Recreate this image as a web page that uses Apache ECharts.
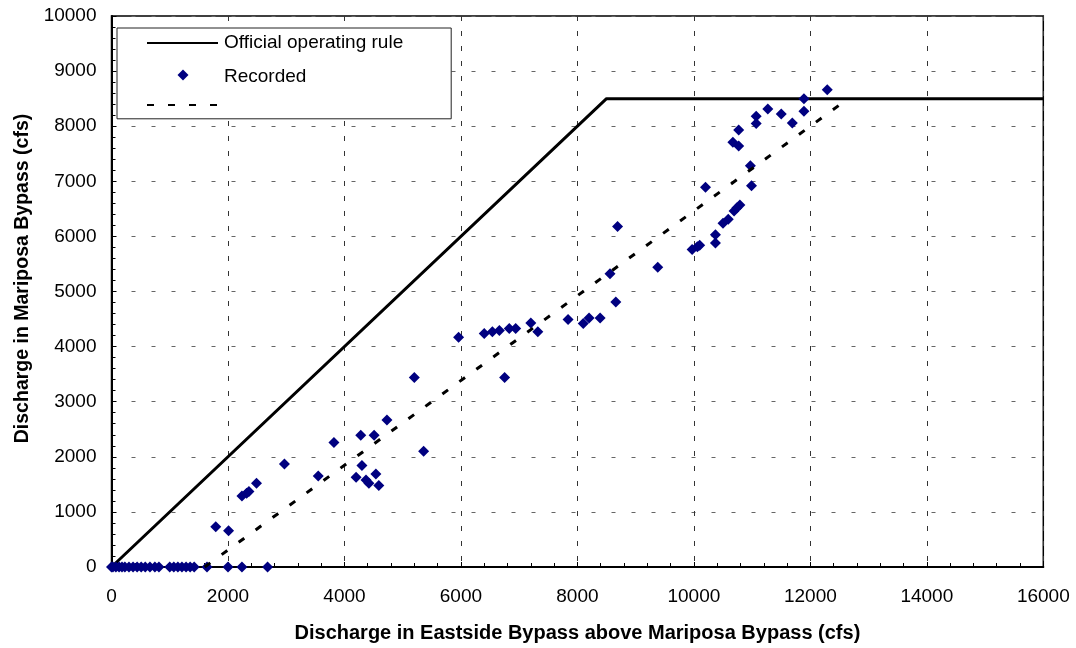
<!DOCTYPE html>
<html>
<head>
<meta charset="utf-8">
<title>Eastside vs Mariposa Bypass discharge</title>
<script src="https://cdn.jsdelivr.net/npm/echarts@6/dist/echarts.min.js"></script>
<style>
  html, body { margin: 0; padding: 0; background: #fff; }
  #chart { width: 1076px; height: 648px; }
</style>
</head>
<body>
<div id="chart"></div>
<script>
// Official operating rule: Mariposa flow follows Eastside flow up to 8500 cfs, then stays flat
const ruleEastside = [0, 8500, 16000];
const ruleMariposa = [0, 8500, 8500];

// Recorded daily discharge pairs (cfs)
const recordedEastside = [
  0, 25, 75, 130, 180, 230, 300, 370, 440, 510, 580, 660, 745, 815,
  1000, 1070, 1140, 1210, 1280, 1350, 1420, 1640, 2000, 2240, 2680,
  1790, 2010, 2240, 2320, 2360, 2490, 2970, 3550, 3820, 4280, 4300,
  4200, 4370, 4420, 4510, 4540, 4590, 4730, 5360, 5200, 5960, 6400,
  6540, 6660, 6830, 6940, 7200, 7320, 6750, 7840, 8100, 8200, 8390,
  8660, 8560, 8690, 9380, 9970, 10060, 10100, 10370, 10370, 10500,
  10590, 10690, 10740, 10790, 10200, 10990, 10970, 10670, 10770,
  10770, 11070, 11070, 11270, 11500, 11690, 11890, 11890, 12290
];
const recordedMariposa = [
  0, 0, 0, 0, 0, 0, 0, 0, 0, 0, 0, 0, 0, 0,
  0, 0, 0, 0, 0, 0, 0, 0, 0, 0, 0,
  730, 660, 1290, 1340, 1370, 1520, 1870, 1650, 2260, 2390, 1840,
  1630, 1580, 1520, 2390, 1690, 1480, 2670, 2100, 3440, 4170, 4240,
  4270, 4290, 4330, 4330, 4430, 4270, 3440, 4490, 4420, 4520, 4520,
  4810, 5320, 6180, 5440, 5760, 5810, 5840, 5880, 6030, 6240,
  6310, 6460, 6520, 6570, 6890, 6920, 7280, 7710, 7640,
  7930, 8180, 8050, 8310, 8220, 8060, 8500, 8270, 8660
];

// Fitted linear trend through the recorded points
const trendEastside = [1600, 12520];
const trendMariposa = [0, 8400];

const zip = (xs, ys) => xs.map((x, i) => [x, ys[i]]);

const FONT = "'Liberation Sans', Arial, Helvetica, sans-serif";
const NAVY = '#000080';

const chart = echarts.init(document.getElementById('chart'), null, { renderer: 'canvas' });

const gridLineX = { show: true, lineStyle: { color: '#333', type: [5, 10], width: 1 } };
const gridLineY = { show: true, lineStyle: { color: '#666', type: [4, 16], width: 1 } };
const plainNumber = v => String(v);

// icons that the framed legend should not paint
const hiddenMarker = { color: 'transparent', borderColor: 'transparent', borderWidth: 0, opacity: 0 };

chart.setOption({
  animation: false,
  backgroundColor: '#fff',
  textStyle: { fontFamily: FONT },
  grid: {
    left: 111.5, right: 32.7, top: 16, bottom: 78.7,
    show: true, borderColor: '#000', borderWidth: 1.5, backgroundColor: 'transparent'
  },
  legend: [
    {
      // framed legend: line samples and all labels
      left: 117, top: 28,
      orient: 'vertical',
      padding: [5.5, 48, 9.5, 29],
      itemGap: 14.5,
      itemWidth: 71, itemHeight: 11,
      borderColor: '#222', borderWidth: 1,
      backgroundColor: '#fff',
      selectedMode: false,
      z: 10,
      textStyle: { fontFamily: FONT, fontSize: 19, lineHeight: 19, color: '#000', padding: [0, 0, 0, 1] },
      formatter: name => (name === 'Linear trend' ? '' : name),
      data: [
        { name: 'Official operating rule', itemStyle: hiddenMarker },
        { name: 'Recorded', itemStyle: hiddenMarker },
        { name: 'Linear trend', itemStyle: hiddenMarker }
      ]
    },
    {
      // the diamond marker sample, drawn at its natural size inside the frame
      left: 177.5, top: 69.5,
      padding: 0,
      itemWidth: 11, itemHeight: 11,
      selectedMode: false,
      z: 11,
      textStyle: { fontSize: 1, lineHeight: 1 },
      formatter: () => '',
      data: [{ name: 'Recorded', icon: 'diamond', itemStyle: { color: NAVY, opacity: 1 } }]
    }
  ],
  xAxis: {
    type: 'value',
    min: 0, max: 16000, interval: 2000,
    name: 'Discharge in Eastside Bypass above Mariposa Bypass (cfs)',
    nameLocation: 'middle',
    nameGap: 56,
    nameTextStyle: { fontFamily: FONT, fontSize: 20, fontWeight: 'bold', color: '#000' },
    axisLine: { show: true, onZero: false, lineStyle: { color: '#000', width: 2 } },
    axisTick: { show: true, inside: true, length: 5, lineStyle: { color: '#000' } },
    minorTick: { show: true, splitNumber: 5, length: 4, lineStyle: { color: '#000' } },
    axisLabel: { fontFamily: FONT, fontSize: 19, color: '#000', margin: 20, formatter: plainNumber },
    splitLine: gridLineX
  },
  yAxis: {
    type: 'value',
    min: 0, max: 10000, interval: 1000,
    name: 'Discharge in Mariposa Bypass (cfs)',
    nameLocation: 'middle',
    nameGap: 77,
    nameTextStyle: { fontFamily: FONT, fontSize: 19.5, fontWeight: 'bold', color: '#000', padding: [0, 0, 0, 26] },
    axisLine: { show: true, onZero: false, lineStyle: { color: '#000', width: 2 } },
    axisTick: { show: true, inside: true, length: 5, lineStyle: { color: '#000' } },
    minorTick: { show: true, splitNumber: 5, length: 4, lineStyle: { color: '#000' } },
    axisLabel: { fontFamily: FONT, fontSize: 19, color: '#000', margin: 15, formatter: plainNumber },
    splitLine: gridLineY
  },
  series: [
    {
      name: 'Official operating rule',
      type: 'line',
      data: zip(ruleEastside, ruleMariposa),
      showSymbol: false,
      symbol: 'none',
      color: '#000',
      lineStyle: { color: '#000', width: 3 },
      z: 3
    },
    {
      name: 'Recorded',
      type: 'scatter',
      data: zip(recordedEastside, recordedMariposa),
      symbol: 'diamond',
      symbolSize: 11,
      itemStyle: { color: NAVY, opacity: 1 },
      z: 4
    },
    {
      name: 'Linear trend',
      type: 'line',
      data: zip(trendEastside, trendMariposa),
      showSymbol: false,
      symbol: 'none',
      color: '#000',
      lineStyle: { color: '#000', width: 3, type: [7, 14] },
      z: 5
    }
  ]
});
</script>
</body>
</html>
